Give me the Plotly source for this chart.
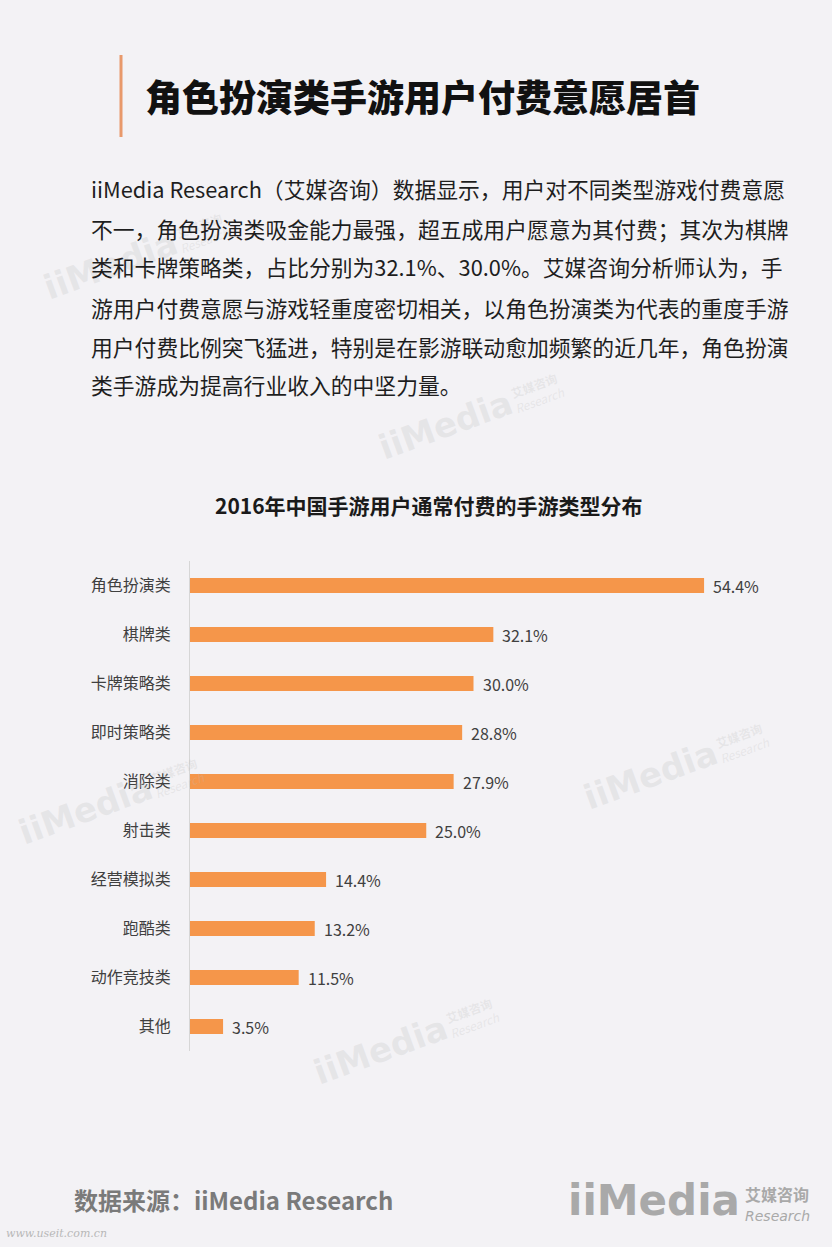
import plotly.graph_objects as go

# ---------------- data ----------------
categories = ["角色扮演类", "棋牌类", "卡牌策略类", "即时策略类", "消除类",
              "射击类", "经营模拟类", "跑酷类", "动作竞技类", "其他"]
values = [54.4, 32.1, 30.0, 28.8, 27.9, 25.0, 14.4, 13.2, 11.5, 3.5]

page_title = "角色扮演类手游用户付费意愿居首"
paragraph_lines = [
    "iiMedia Research（艾媒咨询）数据显示，用户对不同类型游戏付费意愿",
    "不一，角色扮演类吸金能力最强，超五成用户愿意为其付费；其次为棋牌",
    "类和卡牌策略类，占比分别为32.1%、30.0%。艾媒咨询分析师认为，手",
    "游用户付费意愿与游戏轻重度密切相关，以角色扮演类为代表的重度手游",
    "用户付费比例突飞猛进，特别是在影游联动愈加频繁的近几年，角色扮演",
    "类手游成为提高行业收入的中坚力量。",
]
chart_title = "2016年中国手游用户通常付费的手游类型分布"
source_text = "数据来源：iiMedia Research"

# ---------------- layout geometry ----------------
W, H = 832, 1247
L, R, T, B = 190, 75, 561, 196
PW, PH = W - L - R, H - T - B
FONT = "Noto Sans CJK SC"
BG = "#f3f2f5"
BAR = "#f5964a"


def px(x):
    return (x - L) / PW


def py(y):
    return (H - B - y) / PH


fig = go.Figure()
fig.add_trace(go.Bar(
    x=values, y=categories, orientation="h",
    marker=dict(color=BAR, line=dict(width=0)),
    width=0.31, hoverinfo="skip",
))

annotations = []

# value labels
for c, v in zip(categories, values):
    annotations.append(dict(
        x=v, y=c, xref="x", yref="y", text=f"{v:.1f}%",
        xanchor="left", yanchor="middle", xshift=7, showarrow=False,
        font=dict(family=FONT, size=16, color="#404040"),
    ))

# watermarks (faint)
wm_col = "rgba(190,190,190,0.25)"
for (wx, wy) in [(110, 265), (445, 425), (650, 775), (85, 810), (380, 1050)]:
    annotations.append(dict(
        x=px(wx), y=py(wy), xref="paper", yref="paper",
        text="<b>iiMedia</b>", showarrow=False, textangle=-20,
        font=dict(family="DejaVu Sans", size=34, color=wm_col),
        xanchor="center", yanchor="middle",
    ))
    annotations.append(dict(
        x=px(wx + 92), y=py(wy - 33), xref="paper", yref="paper",
        text="<b>艾媒咨询</b><br><i>Research</i>", showarrow=False, textangle=-20,
        font=dict(family=FONT, size=12, color=wm_col),
        xanchor="center", yanchor="middle",
    ))

# page title
annotations.append(dict(
    x=px(143), y=py(96), xref="paper", yref="paper",
    text=page_title, showarrow=False, xanchor="left", yanchor="middle",
    font=dict(family=FONT, size=37, color="#111111", weight=900),
))

# paragraph
line_ys = [188, 228, 267, 307, 346, 385]
for t, yy in zip(paragraph_lines, line_ys):
    annotations.append(dict(
        x=px(89), y=py(yy), xref="paper", yref="paper",
        text=t, showarrow=False, xanchor="left", yanchor="middle",
        font=dict(family=FONT, size=21.8, color="#1e1e1e"),
    ))

# chart title
annotations.append(dict(
    x=px(429), y=py(505), xref="paper", yref="paper",
    text=f"<b>{chart_title}</b>", showarrow=False, xanchor="center", yanchor="middle",
    font=dict(family=FONT, size=21, color="#1a1a1a"),
))

# source
annotations.append(dict(
    x=px(72), y=py(1199), xref="paper", yref="paper",
    text=f"<b>{source_text}</b>", showarrow=False, xanchor="left", yanchor="middle",
    font=dict(family=FONT, size=24, color="#7a7a7a"),
))

# footer url
annotations.append(dict(
    x=px(4), y=py(1233), xref="paper", yref="paper",
    text="<i>www.useit.com.cn</i>", showarrow=False, xanchor="left", yanchor="middle",
    font=dict(family="DejaVu Serif", size=11, color="#b8b8b8"),
))

# logo bottom right
annotations.append(dict(
    x=px(566), y=py(1200), xref="paper", yref="paper",
    text="<b>iiMedia</b>", showarrow=False, xanchor="left", yanchor="middle",
    font=dict(family="DejaVu Sans", size=42, color="#a9a9a9"),
))
annotations.append(dict(
    x=px(743), y=py(1194), xref="paper", yref="paper",
    text="<b>艾媒咨询</b>", showarrow=False, xanchor="left", yanchor="middle",
    font=dict(family=FONT, size=16, color="#a9a9a9"),
))
annotations.append(dict(
    x=px(743), y=py(1216), xref="paper", yref="paper",
    text="<i>Research</i>", showarrow=False, xanchor="left", yanchor="middle",
    font=dict(family="DejaVu Sans", size=14, color="#a9a9a9"),
))

shapes = [dict(
    type="line", xref="paper", yref="paper",
    x0=px(121), x1=px(121), y0=py(55), y1=py(137),
    line=dict(color="#e8996b", width=3),
)]

fig.update_layout(
    width=W, height=H,
    margin=dict(l=L, r=R, t=T, b=B, pad=0),
    paper_bgcolor=BG, plot_bgcolor=BG,
    showlegend=False,
    annotations=annotations, shapes=shapes,
    bargap=0.69,
    xaxis=dict(range=[0, 60], visible=False, fixedrange=True),
    yaxis=dict(
        categoryorder="array", categoryarray=categories, autorange="reversed",
        showline=True, linecolor="#d6d6d6", linewidth=1,
        showgrid=False, zeroline=False, ticks="",
        ticklabelstandoff=15,
        tickfont=dict(family=FONT, size=16, color="#404040"),
        fixedrange=True,
    ),
)

fig.write_html(
    "out.html",
    config={"displayModeBar": False},
    post_script="document.body.style.margin='0';document.body.style.overflow='hidden';"
                "document.body.style.background='" + BG + "';",
)
